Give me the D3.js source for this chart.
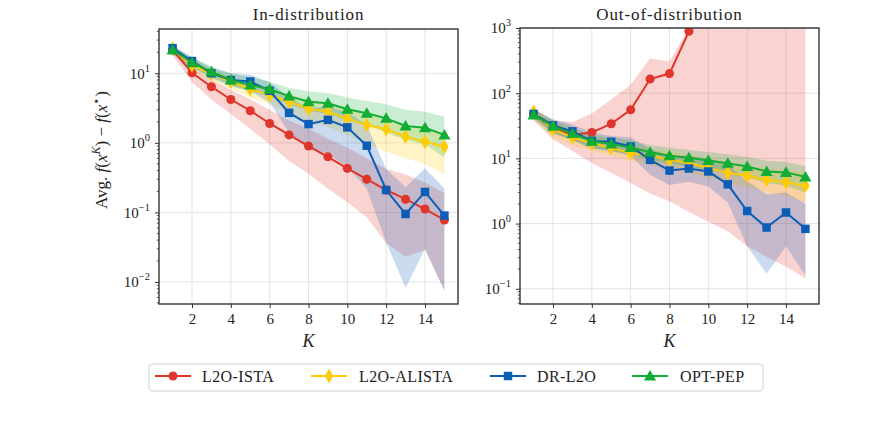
<!DOCTYPE html>
<html><head><meta charset="utf-8">
<script src="https://cdn.jsdelivr.net/npm/d3@7"></script>
<style>body{margin:0;background:#fff}svg{display:block}</style>
</head><body><svg id="c" width="871" height="426"></svg>
<script>
const K = [1,2,3,4,5,6,7,8,9,10,11,12,13,14,15];
const seriesNames = ["L2O-ISTA","L2O-ALISTA","DR-L2O","OPT-PEP"];
const xTicks = [2,4,6,8,10,12,14];
const yTicksIn = [0.01,0.1,1,10];
const yTicksOut = [0.1,1,10,100,1000];
const titles = ["In-distribution","Out-of-distribution"];

// In-distribution
const inIsta      = [21.6,10.2,6.4,4.2,2.9,1.9,1.3,0.9,0.63,0.43,0.30,0.21,0.155,0.112,0.078];
const inIstaLo    = [18,7.5,4.2,2.6,1.6,0.95,0.55,0.36,0.22,0.14,0.085,0.036,0.023,0.029,0.0076];
const inIstaHi    = [24,12,8.2,5.8,4.2,3.0,2.1,1.6,1.15,0.85,0.6,0.42,0.35,0.27,0.19];
const inAlista    = [22.5,13,9.8,7.6,5.9,4.9,3.9,3.1,2.8,2.25,1.8,1.57,1.23,1.04,0.88];
const inAlistaLo  = [19,10.5,7.8,6,4.5,3.6,2.7,2.0,1.7,1.3,0.95,0.75,0.6,0.5,0.35];
const inAlistaHi  = [25,16,11.5,9,7,6,5,4.2,3.8,3.2,2.6,2.2,1.8,1.6,1.3];
const inDr        = [23,15,10,8.0,7.6,5.6,2.7,1.86,2.14,1.67,0.91,0.21,0.095,0.197,0.09];
const inDrLo      = [19,12,8.5,6.5,5.5,3.8,1.4,0.8,0.7,0.45,0.22,0.037,0.0083,0.03,0.0075];
const inDrHi      = [25,17,12,10,9.5,7.5,4.5,3.2,3.3,2.8,1.8,0.42,0.23,0.43,0.22];
const inPep       = [21.6,14.2,10.5,8.0,6.8,5.9,4.7,3.9,3.7,3.04,2.66,2.25,1.75,1.65,1.3];
const inPepLo     = [19,12,9,6.8,5.6,4.6,3.6,2.9,2.6,2.1,1.8,1.4,1.1,0.95,0.62];
const inPepHi     = [25,17,12.5,10,8.8,7.5,6.2,5.5,5.2,4.5,4.0,3.6,3.0,2.8,2.4];

// Out-of-distribution
const outIsta     = [48,29,23,24.9,34,55.6,165,200,890,5000,3e4,1e5,3e5,1e6,3e6];
const outIstaLo   = [38,19.6,13,8.5,6,4.2,2.9,2.2,1.5,1.07,0.76,0.45,0.31,0.22,0.144];
const outIstaHi   = [58,38,36,49,80,135,345,307,1000,1e5,1e6,1e6,1e6,1e6,1e6];
const outAlista   = [52,28,21,17,14.5,12,11,9.5,8.5,7.1,6.0,5.4,4.7,4.3,3.8];
const outAlistaLo = [40,21,16,13,11,9.2,8,6.8,6,5,4.2,3.6,3.0,2.6,2.1];
const outAlistaHi = [60,36,28,22,19,16,14,12.5,11.5,10,8.6,7.8,7.0,6.6,6.0];
const outDr       = [48,32,26,18.5,18,15.2,9.5,6.5,7.0,6.3,4.0,1.56,0.87,1.48,0.83];
const outDrLo     = [42,24,19,14,13,11,5.6,3.9,4.4,3.7,2.1,0.45,0.17,0.45,0.16];
const outDrHi     = [56,40,33,25,22,21,14,11,11,10,8,4.5,2.8,3.0,2.0];
const outPep      = [46.5,31,24,18.3,16.6,14.7,12.4,11,10.2,9.3,8.4,7.5,6.3,6.1,5.2];
const outPepLo    = [40,25,19,14.5,13,11.5,9.5,8.3,7.5,6.7,5.9,5.1,4.2,3.8,3.0];
const outPepHi    = [55,38,30,23,21,19,16,14.5,13.5,12.5,11.5,10.5,9.2,8.8,7.6];

const colors = ["#e0352b","#ffcc00","#0c5db6","#12ad35"];
const markers = ["circle","diamond","square","triangle"];
const FONT = "Liberation Serif";

const svg = d3.select("#c");

function supLabel(sel, v){
  const e = Math.round(Math.log10(v));
  sel.text(null);
  sel.append("tspan").text("10");
  sel.append("tspan").attr("dy",-7).attr("font-size",10.5).text(e<0 ? "\u2212"+(-e) : e);
}

function symbolPath(type){
  const map = {circle:[d3.symbolCircle,64], diamond:[d3.symbolDiamond,62], square:[d3.symbolSquare,72], triangle:[d3.symbolTriangle,64]};
  const [t,s] = map[type];
  return d3.symbol().type(t).size(s)();
}

function panel(idx, xr, yDomain, yr, yTicks, data){
  const x = d3.scaleLinear().domain([0.3,15.7]).range(xr);
  const y = d3.scaleLog().domain(yDomain).range(yr);
  const g = svg.append("g");
  const clipId = "clip"+idx;
  g.append("clipPath").attr("id",clipId).append("rect")
    .attr("x",xr[0]).attr("y",yr[1]).attr("width",xr[1]-xr[0]).attr("height",yr[0]-yr[1]);
  g.append("g").selectAll("line").data(xTicks).join("line")
    .attr("x1",d=>x(d)).attr("x2",d=>x(d)).attr("y1",yr[0]).attr("y2",yr[1])
    .attr("stroke","#e3e3e3").attr("stroke-width",1);
  g.append("g").selectAll("line").data(yTicks).join("line")
    .attr("x1",xr[0]).attr("x2",xr[1]).attr("y1",d=>y(d)).attr("y2",d=>y(d))
    .attr("stroke","#e3e3e3").attr("stroke-width",1);
  const plot = g.append("g").attr("clip-path","url(#"+clipId+")");
  data.forEach((s,i)=>{
    const area = d3.area().x((d,j)=>x(K[j])).y0((d,j)=>y(s.lo[j])).y1((d,j)=>y(s.hi[j]));
    plot.append("path").datum(s.lo).attr("d",area).attr("fill",colors[i]).attr("fill-opacity",0.22);
  });
  data.forEach((s,i)=>{
    const line = d3.line().x((d,j)=>x(K[j])).y(d=>y(d));
    plot.append("path").datum(s.mid).attr("d",line).attr("fill","none").attr("stroke",colors[i]).attr("stroke-width",2);
    plot.append("g").selectAll("path").data(s.mid).join("path")
      .attr("transform",(d,j)=>`translate(${x(K[j])},${y(d)})${markers[i]==="triangle"?" translate(0,1)":""}`)
      .attr("d",symbolPath(markers[i])).attr("fill",colors[i]);
  });
  const xAxis = d3.axisBottom(x).tickValues(xTicks).tickSize(4).tickPadding(5).tickFormat(d3.format("d"));
  const ax = g.append("g").attr("transform",`translate(0,${yr[0]})`).call(xAxis);
  ax.attr("font-family",FONT).attr("font-size",15);
  ax.select(".domain").remove();
  ax.selectAll("text").attr("fill","#222");
  ax.selectAll("line").attr("stroke","#333");
  const yAxis = d3.axisLeft(y).tickValues(yTicks).tickSize(4).tickPadding(5);
  const ay = g.append("g").attr("transform",`translate(${xr[0]},0)`).call(yAxis);
  ay.attr("font-family",FONT).attr("font-size",15);
  ay.select(".domain").remove();
  ay.selectAll("line").attr("stroke","#333");
  ay.selectAll("text").attr("fill","#222").each(function(d){supLabel(d3.select(this),d);});
  const minors = [];
  const lo = Math.floor(Math.log10(yDomain[0])), hi = Math.ceil(Math.log10(yDomain[1]));
  for(let e=lo;e<hi;e++) for(let m=2;m<=9;m++){const v=m*Math.pow(10,e); if(v>=yDomain[0]&&v<=yDomain[1]) minors.push(v);}
  g.append("g").selectAll("line").data(minors).join("line")
    .attr("x1",xr[0]-2.2).attr("x2",xr[0]).attr("y1",d=>y(d)).attr("y2",d=>y(d)).attr("stroke","#333").attr("stroke-width",0.8);
  g.append("rect").attr("x",xr[0]).attr("y",yr[1]).attr("width",xr[1]-xr[0]).attr("height",yr[0]-yr[1])
    .attr("fill","none").attr("stroke","#333").attr("stroke-width",1.4);
  g.append("text").attr("x",(xr[0]+xr[1])/2).attr("y",19.5).attr("text-anchor","middle").attr("fill","#222")
    .attr("font-family",FONT).attr("font-size",17).attr("letter-spacing",0.9).text(titles[idx]);
  g.append("text").attr("x",(xr[0]+xr[1])/2).attr("y",347).attr("text-anchor","middle").attr("fill","#222")
    .attr("font-family",FONT).attr("font-size",18).attr("font-style","italic").text("K");
}

panel(0,[159,458],[0.00483,43.3],[304,29],yTicksIn,[
  {mid:inIsta,lo:inIstaLo,hi:inIstaHi},
  {mid:inAlista,lo:inAlistaLo,hi:inAlistaHi},
  {mid:inDr,lo:inDrLo,hi:inDrHi},
  {mid:inPep,lo:inPepLo,hi:inPepHi}]);
panel(1,[520,819],[0.0584,1000],[304,28],yTicksOut,[
  {mid:outIsta,lo:outIstaLo,hi:outIstaHi},
  {mid:outAlista,lo:outAlistaLo,hi:outAlistaHi},
  {mid:outDr,lo:outDrLo,hi:outDrHi},
  {mid:outPep,lo:outPepLo,hi:outPepHi}]);

const yl = svg.append("text").attr("transform","translate(107,150) rotate(-90)").attr("text-anchor","middle")
  .attr("font-family",FONT).attr("font-size",17).attr("fill","#222");
yl.append("tspan").text("Avg. ");
yl.append("tspan").attr("font-style","italic").text("f");
yl.append("tspan").text("(");
yl.append("tspan").attr("font-style","italic").text("x");
yl.append("tspan").attr("font-style","italic").attr("font-size",12).attr("dy",-7).text("K");
yl.append("tspan").attr("dy",7).text(") \u2212 ");
yl.append("tspan").attr("font-style","italic").text("f");
yl.append("tspan").text("(");
yl.append("tspan").attr("font-style","italic").text("x");
yl.append("tspan").attr("font-size",12).attr("dy",-7).text("\u22c6");
yl.append("tspan").attr("dy",7).text(")");

const lg = svg.append("g");
lg.append("rect").attr("x",149).attr("y",364).attr("width",614).attr("height",27).attr("rx",3)
  .attr("fill","#fff").attr("stroke","#d0d0d0").attr("stroke-width",1);
const legX = [155,311,490,632];
const legTextX = [202,359,537,680];
seriesNames.forEach((n,i)=>{
  lg.append("line").attr("x1",legX[i]).attr("x2",legX[i]+36).attr("y1",376).attr("y2",376)
    .attr("stroke",colors[i]).attr("stroke-width",2);
  lg.append("path").attr("transform",`translate(${legX[i]+18},${markers[i]==="triangle"?377:376})`)
    .attr("d",symbolPath(markers[i])).attr("fill",colors[i]);
  lg.append("text").attr("x",legTextX[i]).attr("y",381.5).attr("font-family",FONT).attr("font-size",16)
    .attr("letter-spacing",0.4).attr("fill","#222").text(n);
});
</script></body></html>
